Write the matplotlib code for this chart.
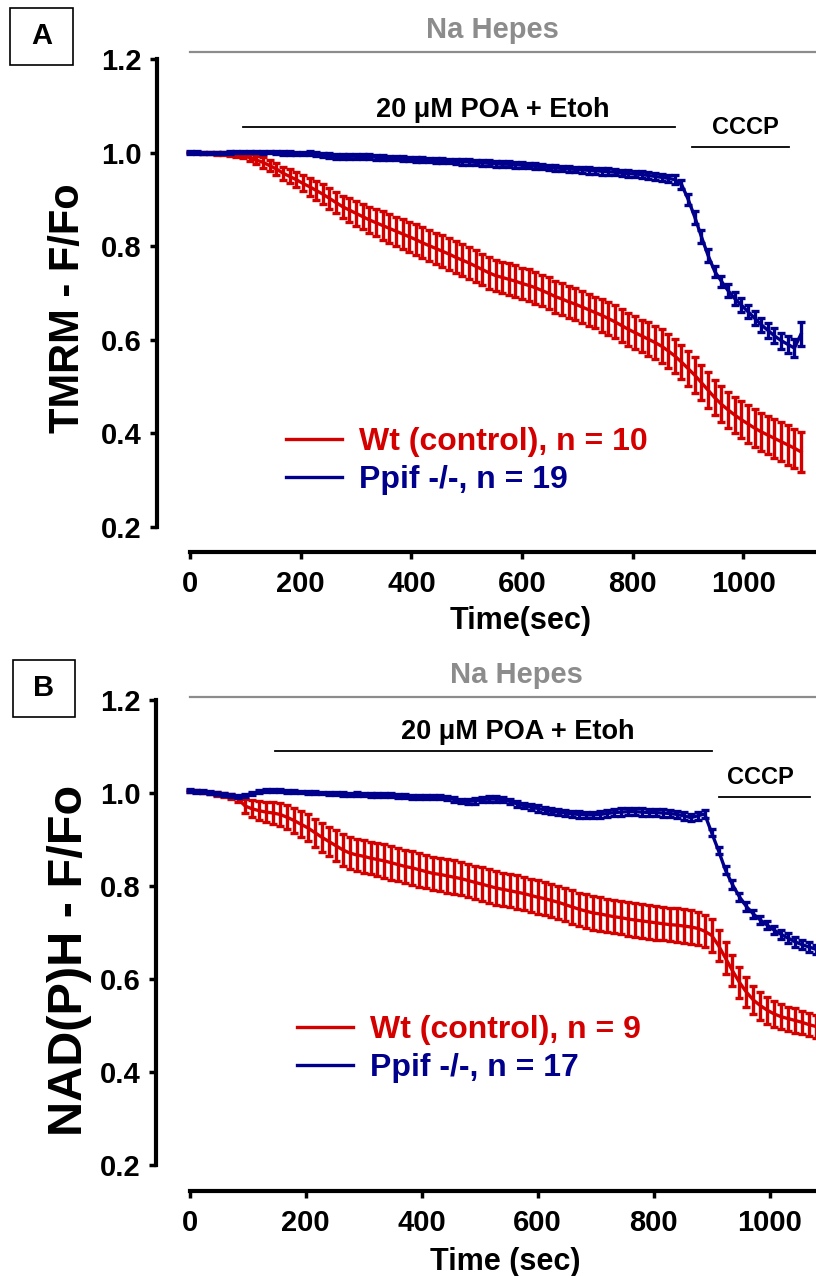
import numpy as np
import matplotlib.pyplot as plt
from matplotlib.lines import Line2D
from matplotlib.patches import Rectangle

plt.rcParams['font.family'] = ['Liberation Sans', 'DejaVu Sans']
plt.rcParams['font.weight'] = 'bold'

RED = '#D40000'
BLUE = '#00008C'
GRAY = '#8C8C8C'

step_sec = 12  # one reading every 12 s

# ---- panel A : TMRM ----
wt_a = [1.000, 1.000, 0.999, 0.999, 0.998, 0.998, 0.997, 0.995, 0.993, 0.989,
        0.984, 0.979, 0.972, 0.965, 0.956, 0.949, 0.942, 0.934, 0.927, 0.919,
        0.911, 0.902, 0.893, 0.884, 0.877, 0.870, 0.863, 0.856, 0.850, 0.844,
        0.838, 0.832, 0.826, 0.820, 0.814, 0.807, 0.801, 0.795, 0.789, 0.783,
        0.776, 0.770, 0.764, 0.757, 0.750, 0.743, 0.737, 0.733, 0.729, 0.725,
        0.720, 0.716, 0.711, 0.705, 0.699, 0.692, 0.687, 0.681, 0.676, 0.670,
        0.664, 0.658, 0.652, 0.645, 0.638, 0.630, 0.622, 0.615, 0.608, 0.601,
        0.594, 0.586, 0.576, 0.565, 0.552, 0.538, 0.524, 0.508, 0.492, 0.476,
        0.462, 0.450, 0.439, 0.429, 0.420, 0.411, 0.403, 0.396, 0.389, 0.382,
        0.375, 0.368, 0.360]
wt_a_sem = [0.002, 0.002, 0.002, 0.003, 0.003, 0.003, 0.004, 0.004, 0.005, 0.007,
            0.009, 0.011, 0.012, 0.013, 0.014, 0.015, 0.016, 0.017, 0.019, 0.020,
            0.021, 0.022, 0.023, 0.024, 0.025, 0.026, 0.027, 0.028, 0.029, 0.030,
            0.031, 0.031, 0.032, 0.032, 0.033, 0.033, 0.033, 0.033, 0.034, 0.034,
            0.034, 0.034, 0.034, 0.034, 0.034, 0.034, 0.034, 0.034, 0.034, 0.034,
            0.034, 0.034, 0.034, 0.034, 0.034, 0.034, 0.034, 0.034, 0.034, 0.034,
            0.034, 0.034, 0.035, 0.035, 0.035, 0.035, 0.035, 0.035, 0.035, 0.036,
            0.036, 0.036, 0.036, 0.037, 0.037, 0.037, 0.038, 0.038, 0.038, 0.038,
            0.039, 0.039, 0.039, 0.040, 0.040, 0.040, 0.041, 0.041, 0.041, 0.042,
            0.042, 0.042, 0.043]
ko_a = [1.000, 1.000, 0.999, 0.999, 0.999, 0.999, 1.000, 1.001, 1.001, 1.001,
        1.001, 1.000, 1.001, 1.000, 0.999, 0.999, 0.998, 0.998, 0.999, 0.997,
        0.995, 0.993, 0.991, 0.991, 0.992, 0.992, 0.991, 0.991, 0.990, 0.989,
        0.988, 0.988, 0.987, 0.986, 0.985, 0.985, 0.984, 0.983, 0.983, 0.982,
        0.981, 0.980, 0.980, 0.979, 0.978, 0.977, 0.976, 0.975, 0.975, 0.974,
        0.973, 0.972, 0.971, 0.970, 0.968, 0.967, 0.966, 0.965, 0.964, 0.963,
        0.962, 0.961, 0.960, 0.959, 0.958, 0.956, 0.955, 0.954, 0.953, 0.951,
        0.949, 0.947, 0.945, 0.942, 0.932, 0.900, 0.862, 0.820, 0.780, 0.746,
        0.725, 0.705, 0.688, 0.674, 0.660, 0.646, 0.632, 0.620, 0.608, 0.598,
        0.590, 0.582, 0.612]
ko_a_sem = [0.003, 0.003, 0.003, 0.003, 0.003, 0.003, 0.003, 0.003, 0.003, 0.003,
            0.003, 0.003, 0.003, 0.004, 0.004, 0.004, 0.004, 0.004, 0.004, 0.004,
            0.005, 0.005, 0.005, 0.005, 0.005, 0.005, 0.005, 0.005, 0.005, 0.005,
            0.005, 0.005, 0.005, 0.005, 0.005, 0.005, 0.005, 0.005, 0.005, 0.005,
            0.006, 0.006, 0.006, 0.006, 0.006, 0.006, 0.006, 0.006, 0.006, 0.006,
            0.006, 0.006, 0.006, 0.006, 0.006, 0.006, 0.006, 0.006, 0.006, 0.006,
            0.007, 0.007, 0.007, 0.007, 0.007, 0.007, 0.007, 0.007, 0.007, 0.007,
            0.007, 0.008, 0.008, 0.009, 0.010, 0.012, 0.014, 0.014, 0.013, 0.012,
            0.012, 0.013, 0.013, 0.014, 0.014, 0.015, 0.015, 0.016, 0.016, 0.017,
            0.018, 0.020, 0.025]

# ---- panel B : NAD(P)H ----
wt_b = [1.005, 1.004, 1.002, 1.000, 0.998, 0.995, 0.992, 0.987, 0.972, 0.966,
        0.962, 0.959, 0.957, 0.954, 0.948, 0.941, 0.933, 0.925, 0.915, 0.905,
        0.896, 0.887, 0.878, 0.871, 0.867, 0.864, 0.860, 0.857, 0.854, 0.850,
        0.846, 0.842, 0.839, 0.835, 0.831, 0.827, 0.825, 0.822, 0.819, 0.816,
        0.812, 0.808, 0.804, 0.800, 0.796, 0.793, 0.790, 0.787, 0.784, 0.780,
        0.776, 0.773, 0.769, 0.765, 0.760, 0.755, 0.750, 0.746, 0.742, 0.740,
        0.737, 0.734, 0.732, 0.729, 0.727, 0.725, 0.723, 0.721, 0.719, 0.717,
        0.716, 0.714, 0.712, 0.709, 0.703, 0.694, 0.672, 0.645, 0.618, 0.593,
        0.572, 0.555, 0.543, 0.533, 0.525, 0.519, 0.515, 0.511, 0.507, 0.502,
        0.498]
wt_b_sem = [0.002, 0.002, 0.003, 0.003, 0.004, 0.004, 0.005, 0.006, 0.016, 0.018,
            0.020, 0.022, 0.024, 0.025, 0.026, 0.027, 0.028, 0.029, 0.030, 0.031,
            0.032, 0.033, 0.034, 0.034, 0.035, 0.035, 0.035, 0.035, 0.036, 0.036,
            0.036, 0.036, 0.036, 0.036, 0.036, 0.036, 0.036, 0.036, 0.036, 0.036,
            0.036, 0.036, 0.036, 0.036, 0.036, 0.036, 0.036, 0.036, 0.036, 0.036,
            0.036, 0.036, 0.036, 0.036, 0.036, 0.036, 0.036, 0.036, 0.036, 0.036,
            0.036, 0.036, 0.036, 0.036, 0.036, 0.036, 0.036, 0.036, 0.036, 0.036,
            0.036, 0.036, 0.036, 0.036, 0.035, 0.035, 0.034, 0.034, 0.033, 0.033,
            0.032, 0.031, 0.030, 0.029, 0.028, 0.027, 0.026, 0.026, 0.025, 0.025,
            0.025]
ko_b = [1.005, 1.004, 1.003, 1.001, 0.999, 0.996, 0.994, 0.993, 0.995, 0.999,
        1.003, 1.005, 1.006, 1.005, 1.003, 1.003, 1.002, 1.001, 1.001, 1.000,
        0.999, 0.999, 0.998, 0.997, 0.998, 0.997, 0.996, 0.996, 0.996, 0.995,
        0.994, 0.993, 0.992, 0.991, 0.991, 0.992, 0.991, 0.990, 0.986, 0.983,
        0.982, 0.983, 0.986, 0.987, 0.987, 0.986, 0.982, 0.977, 0.973, 0.970,
        0.967, 0.964, 0.961, 0.959, 0.957, 0.955, 0.954, 0.953, 0.953, 0.954,
        0.956, 0.958, 0.959, 0.960, 0.960, 0.959, 0.958, 0.958, 0.957, 0.956,
        0.954, 0.951, 0.947, 0.951, 0.955, 0.915, 0.876, 0.834, 0.803, 0.777,
        0.756, 0.740, 0.727, 0.716, 0.705, 0.696, 0.688, 0.680, 0.674, 0.669,
        0.664]
ko_b_sem = [0.003, 0.003, 0.003, 0.003, 0.003, 0.003, 0.003, 0.003, 0.003, 0.003,
            0.003, 0.003, 0.003, 0.003, 0.003, 0.003, 0.003, 0.003, 0.003, 0.003,
            0.004, 0.004, 0.004, 0.004, 0.004, 0.004, 0.004, 0.004, 0.004, 0.004,
            0.004, 0.004, 0.004, 0.004, 0.004, 0.004, 0.004, 0.004, 0.005, 0.005,
            0.006, 0.006, 0.006, 0.006, 0.006, 0.006, 0.006, 0.006, 0.006, 0.006,
            0.007, 0.007, 0.007, 0.007, 0.007, 0.007, 0.007, 0.007, 0.007, 0.007,
            0.008, 0.008, 0.008, 0.008, 0.008, 0.008, 0.008, 0.008, 0.008, 0.008,
            0.008, 0.008, 0.008, 0.008, 0.008, 0.008, 0.008, 0.009, 0.009, 0.009,
            0.009, 0.009, 0.009, 0.009, 0.009, 0.010, 0.010, 0.010, 0.010, 0.010,
            0.010]

x_ticks = [0, 200, 400, 600, 800, 1000]
y_ticks = [0.2, 0.4, 0.6, 0.8, 1.0, 1.2]

# treatment windows (sec)
poa_a, cccp_a = (96, 876), (907, 1082)
poa_b, cccp_b = (147, 901), (913, 1070)

W, H = 816, 1276
fig = plt.figure(figsize=(W / 100, H / 100), dpi=100)


def px_axes(left, top, right, bottom):
    return fig.add_axes([left / W, 1 - bottom / H, (right - left) / W, (bottom - top) / H])


def draw_panel(ax, xlim, ylim, wt, wt_sem, ko, ko_sem):
    t_wt = np.arange(len(wt)) * step_sec
    t_ko = np.arange(len(ko)) * step_sec
    ax.errorbar(t_wt, wt, yerr=wt_sem, color=RED, lw=2.4, elinewidth=2.4,
                capsize=3, capthick=2.4, zorder=2)
    ax.errorbar(t_ko, ko, yerr=ko_sem, color=BLUE, lw=2.4, elinewidth=2.4,
                capsize=3, capthick=2.4, zorder=3)
    ax.set_xlim(*xlim)
    ax.set_ylim(*ylim)
    for side in ['top', 'right']:
        ax.spines[side].set_visible(False)
    ax.spines['left'].set_linewidth(3)
    ax.spines['bottom'].set_linewidth(3)
    ax.spines['left'].set_bounds(0.2, 1.2)
    ax.spines['bottom'].set_bounds(0, xlim[1])
    ax.set_xticks(x_ticks)
    ax.set_yticks(y_ticks)
    ax.set_yticklabels(['%.1f' % v for v in y_ticks])
    ax.tick_params(direction='out', length=5, width=2.5, labelsize=21)
    ax.tick_params(axis='y', pad=6)
    ax.tick_params(axis='x', pad=8)


def legend(ax, x_px, y_px, labels):
    handles = [Line2D([], [], color=RED, lw=2.4), Line2D([], [], color=BLUE, lw=2.4)]
    leg = ax.legend(handles, labels, loc='center left',
                    bbox_to_anchor=(x_px / W, 1 - y_px / H), bbox_transform=fig.transFigure,
                    frameon=False, fontsize=23, handlelength=1.75, handletextpad=0.55,
                    labelspacing=0.25, borderpad=0, borderaxespad=0)
    for txt, c in zip(leg.get_texts(), [RED, BLUE]):
        txt.set_color(c)


def panel_label(x0, y0, x1, y1, letter):
    fig.add_artist(Rectangle((x0 / W, 1 - y1 / H), (x1 - x0) / W, (y1 - y0) / H,
                             fill=False, lw=1.2, edgecolor='black', transform=fig.transFigure))
    fig.text((x0 + x1) / 2 / W, 1 - (y0 + y1) / 2 / H, letter, fontsize=21,
             ha='center', va='center')


# panel A
xlim_a, ylim_a = (-59.6, 1131), (0.146, 1.2)
ax_a = px_axes(157, 59, 816, 552)
draw_panel(ax_a, xlim_a, ylim_a, wt_a, wt_a_sem, ko_a, ko_a_sem)
ax_a.plot([0, xlim_a[1]], [1.215, 1.215], color=GRAY, lw=1.6, clip_on=False)
ax_a.text(547, 1.262, 'Na Hepes', color=GRAY, fontsize=21, ha='center', va='center')
ax_a.plot(poa_a, [1.0545, 1.0545], color='black', lw=1.3, clip_on=False)
ax_a.text(547, 1.090, '20 \u03bcM POA + Etoh', fontsize=19.5, ha='center', va='center')
ax_a.plot(cccp_a, [1.012, 1.012], color='black', lw=1.3, clip_on=False)
ax_a.text(1004, 1.0545, 'CCCP', fontsize=17, ha='center', va='center')
legend(ax_a, 286, 461, ['Wt (control), n = 10', 'Ppif -/-, n = 19'])
fig.text(68 / W, 1 - 308 / H, 'TMRM - F/Fo', fontsize=30, rotation=90, ha='center', va='center')
fig.text(521 / W, 1 - 621 / H, 'Time(sec)', fontsize=22, ha='center', va='center')
panel_label(10, 8, 73, 65, 'A')

# panel B
xlim_b, ylim_b = (-57.8, 1080), (0.145, 1.2)
ax_b = px_axes(156, 700, 816, 1190.7)
draw_panel(ax_b, xlim_b, ylim_b, wt_b, wt_b_sem, ko_b, ko_b_sem)
ax_b.plot([0, xlim_b[1]], [1.206, 1.206], color=GRAY, lw=1.6, clip_on=False)
ax_b.text(563, 1.254, 'Na Hepes', color=GRAY, fontsize=21, ha='center', va='center')
ax_b.plot(poa_b, [1.090, 1.090], color='black', lw=1.3, clip_on=False)
ax_b.text(565, 1.131, '20 \u03bcM POA + Etoh', fontsize=19.5, ha='center', va='center')
ax_b.plot(cccp_b, [0.991, 0.991], color='black', lw=1.3, clip_on=False)
ax_b.text(984, 1.034, 'CCCP', fontsize=17, ha='center', va='center')
legend(ax_b, 297, 1049, ['Wt (control), n = 9', 'Ppif -/-, n = 17'])
fig.text(70 / W, 1 - 960 / H, 'NAD(P)H - F/Fo', fontsize=35, rotation=90, ha='center', va='center')
fig.text(505 / W, 1 - 1262 / H, 'Time (sec)', fontsize=22, ha='center', va='center')
panel_label(13, 660, 75, 717, 'B')

fig.savefig('out.png', dpi=100)
